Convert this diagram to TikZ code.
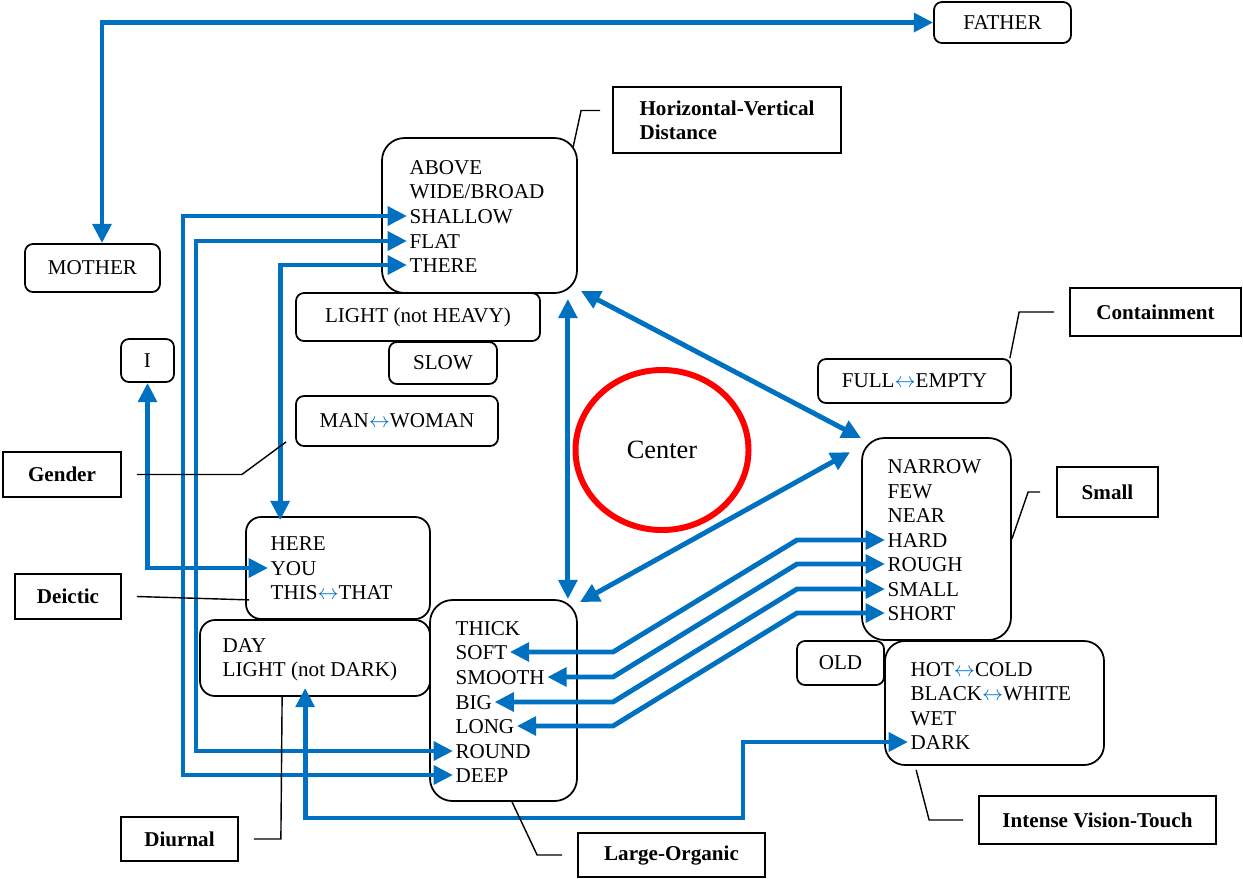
\documentclass[tikz,border=0pt]{standalone}
\usepackage{fontspec}
\setmainfont{Liberation Serif}
\usepackage{tikz}
\usepackage{xcolor}
\usetikzlibrary{arrows.meta,fit,shapes.geometric}

\definecolor{lblue}{RGB}{0,112,192}
\newcommand{\bothway}{\textcolor{lblue}{$\leftrightarrow$}}

\tikzset{
  word/.style={anchor=west, inner sep=0pt, outer xsep=1.5pt, text height=8pt, text depth=0pt},
  groupbox/.style={draw, line width=1pt, rounded corners=4.5mm, inner sep=0pt},
  plainbox/.style={draw, line width=1pt, rounded corners=1.6mm, inner sep=0pt},
  tagbox/.style={draw, line width=1pt, inner sep=0pt, align=left, font=\fontsize{12}{13.9}\selectfont\bfseries},
  link/.style={draw=lblue, line width=2.8pt, {Triangle[length=11pt,width=10.5pt]}-{Triangle[length=11pt,width=10.5pt]}},
  leader/.style={draw, line width=0.8pt}
}

\begin{document}
\begin{tikzpicture}[x=0.2mm, y=-0.2mm, font=\fontsize{12}{13.9}\selectfont]
\useasboundingbox (0,0) rectangle (1243,878);

\node[plainbox, minimum width=27.4mm, minimum height=8.2mm] (father) at (1002.5,22.5) {FATHER};
\node[plainbox, minimum width=27mm, minimum height=9.6mm] (mother) at (92.5,268) {MOTHER};
\node[plainbox, minimum width=10.6mm, minimum height=8.6mm] (ibox) at (147.5,360.5) {I};
\node[plainbox, minimum width=48.8mm, minimum height=9.6mm] (lightbox) at (418,317) {LIGHT (not HEAVY)};
\node[plainbox, minimum width=21.6mm, minimum height=8.4mm] (slowbox) at (443,363) {SLOW};
\node[plainbox, minimum width=40.4mm, minimum height=10mm] (manbox) at (397,421) {MAN\bothway WOMAN};
\node[plainbox, minimum width=38.6mm, minimum height=8.8mm] (fullbox) at (914.5,381) {FULL\bothway EMPTY};
\node[plainbox, minimum width=17.4mm, minimum height=8.8mm] (oldbox) at (840.5,663) {OLD};

\node[tagbox, minimum width=45.6mm, minimum height=13.2mm] (hvlbl) at (727,120) {Horizontal-Vertical\\Distance};
\node[tagbox, minimum width=34.2mm, minimum height=9.6mm] (contlbl) at (1155.5,312) {Containment};
\node[tagbox, minimum width=20.2mm, minimum height=10mm] (smalllbl) at (1107.5,492) {Small};
\node[tagbox, minimum width=23.6mm, minimum height=9mm] (genderlbl) at (62,474.5) {Gender};
\node[tagbox, minimum width=21.2mm, minimum height=9mm] (deictlbl) at (68,596.5) {Deictic};
\node[tagbox, minimum width=23.4mm, minimum height=8.8mm] (diurlbl) at (179.5,839) {Diurnal};
\node[tagbox, minimum width=37.4mm, minimum height=8.8mm] (lolbl) at (671.5,855) {Large-Organic};
\node[tagbox, minimum width=47.4mm, minimum height=9.6mm] (intlbl) at (1097.5,820) {Intense Vision-Touch};

\node[groupbox, fit={(382,138) (577,293)}] (hvbox) {};
\node[groupbox, rounded corners=3mm, fit={(246,517) (430,619)}] (deictbox) {};
\node[groupbox, rounded corners=3mm, fit={(200,620) (430,696)}] (daybox) {};
\node[groupbox, fit={(430,600) (577,801)}] (lobox) {};
\node[groupbox, fit={(862,438) (1011,640)}] (smallgrp) {};
\node[groupbox, rounded corners=4mm, fit={(885,641) (1104,765)}] (intbox) {};

\node[draw=red, line width=3.4pt, ellipse, minimum width=34.6mm, minimum height=32mm, font=\fontsize{15}{18}\selectfont] (centre) at (662,450) {Center};

\node[word] (above) at (407,167) {ABOVE};
\node[word] (wide) at (407,191) {WIDE/BROAD};
\node[word] (shallow) at (407,216) {SHALLOW};
\node[word] (flat) at (407,241) {FLAT};
\node[word] (there) at (407,265) {THERE};

\node[word] (here) at (268,543) {HERE};
\node[word] (you) at (268,568) {YOU};
\node[word] (thisthat) at (268,592) {THIS\bothway THAT};

\node[word] (day) at (220,645) {DAY};
\node[word] (lightnd) at (220,669) {LIGHT (not DARK)};

\node[word] (thick) at (453,628) {THICK};
\node[word] (soft) at (453,652) {SOFT};
\node[word] (smooth) at (453,677) {SMOOTH};
\node[word] (big) at (453,702) {BIG};
\node[word] (long) at (453,726) {LONG};
\node[word] (round) at (453,751) {ROUND};
\node[word] (deep) at (453,775) {DEEP};

\node[word] (narrow) at (885,466) {NARROW};
\node[word] (few) at (885,491) {FEW};
\node[word] (near) at (885,515) {NEAR};
\node[word] (hard) at (885,540) {HARD};
\node[word] (rough) at (885,564) {ROUGH};
\node[word] (small) at (885,589) {SMALL};
\node[word] (short) at (885,613) {SHORT};

\node[word] (hotcold) at (908,669) {HOT\bothway COLD};
\node[word] (blackwhite) at (908,693) {BLACK\bothway WHITE};
\node[word] (wet) at (908,718) {WET};
\node[word] (dark) at (908,742) {DARK};

\coordinate (colA) at (183,0);
\coordinate (colB) at (196,0);
\coordinate (bend) at (613,0);
\coordinate (turn) at (797,0);
\coordinate (colD) at (743,818);

\draw[link] ([xshift=1.9mm]mother.north) |- (father.west);
\draw[link] (shallow.west) -- (shallow.west -| colA) |- (deep.west);
\draw[link] (flat.west) -- (flat.west -| colB) |- (round.west);
\draw[link] (there.west) -| ([shift={(7mm,-0.8mm)}]deictbox.north west);
\draw[link] (ibox.south) |- (you.west);
\draw[link] ([shift={(-2mm,-1mm)}]hvbox.south east) -- ([xshift=-2mm]lobox.north east);
\draw[link] ([shift={(0.6mm,0.6mm)}]hvbox.south east) -- ([yshift=-0.2mm]smallgrp.north west);
\draw[link] ([shift={(0.4mm,-0.6mm)}]lobox.north east) -- ([shift={(-2.2mm,-3mm)}]smallgrp.north west);
\draw[link] (hard.west) -- (hard.west -| turn) -- (soft.east -| bend) -- (soft.east);
\draw[link] (rough.west) -- (rough.west -| turn) -- (smooth.east -| bend) -- (smooth.east);
\draw[link] (small.west) -- (small.west -| turn) -- (big.east -| bend) -- (big.east);
\draw[link] (short.west) -- (short.west -| turn) -- (long.east -| bend) -- (long.east);
\draw[link] (dark.west) -| (colD) -| ([shift={(21.2mm,1.8mm)}]daybox.south west);

\draw[leader] ([shift={(-2.4mm,1.9mm)}]hvlbl.west) -- ++(-19,0) -- ([shift={(-1mm,-2.2mm)}]hvbox.north east);
\draw[leader] ([xshift=-3mm]contlbl.west) -- ++(-35,0) -- ([xshift=-0.4mm]fullbox.north east);
\draw[leader] ([xshift=-3.2mm]smalllbl.west) -- ++(-12,0) -- (smallgrp.east);
\draw[leader] ([xshift=-3mm]intlbl.west) -- ++(-34,0) -- ([shift={(6.4mm,-0.8mm)}]intbox.south west);
\draw[leader] ([xshift=-3mm]lolbl.west) -- ++(-25,0) -- ([xshift=1.7mm]lobox.south);
\draw[leader] ([xshift=3mm]diurlbl.east) -- ++(27,0) -- ([xshift=16.6mm]daybox.south west);
\draw[leader] ([xshift=3mm]deictlbl.east) -- ([shift={(0.8mm,4mm)}]deictbox.south west);
\draw[leader] ([xshift=3mm]genderlbl.east) -- ++(105,0) -- ([shift={(-1.8mm,1mm)}]manbox.south west);
\end{tikzpicture}
\end{document}
